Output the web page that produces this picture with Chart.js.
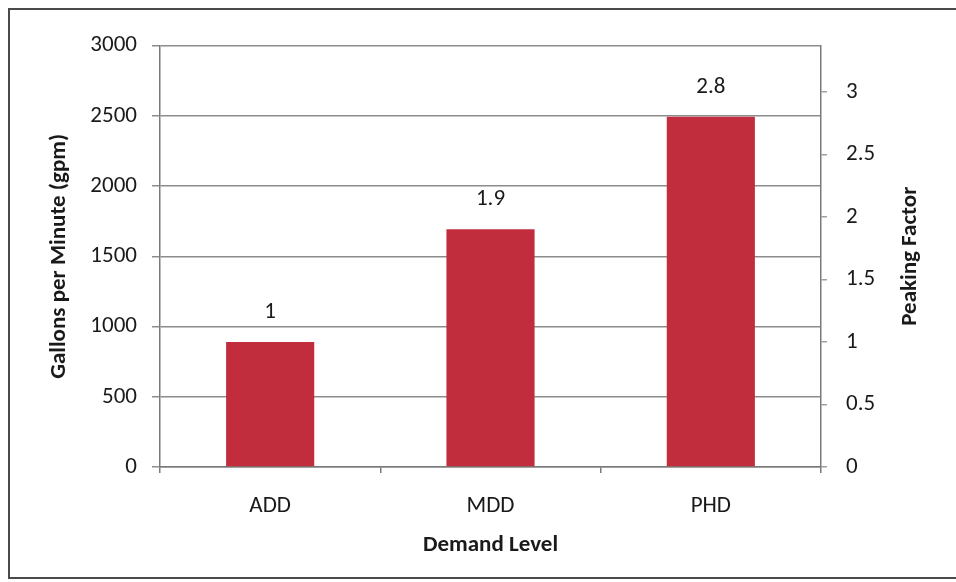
<!DOCTYPE html>
<html>
<head>
<meta charset="utf-8">
<title>Demand Level and Peaking Factor</title>
<script src="https://cdn.jsdelivr.net/npm/chart.js@4.4.1/dist/chart.umd.min.js"></script>
<style>
  html, body { margin: 0; padding: 0; background: #ffffff; }
  #wrap { width: 956px; height: 582px; }
</style>
</head>
<body>
<div id="wrap"><canvas id="chart" width="956" height="582"></canvas></div>
<script>
// Demand levels and their peaking factors (ratio to average day demand)
const demandLevels = ['ADD', 'MDD', 'PHD'];
const peakingFactors = [1, 1.9, 2.8];

// Axis tick ranges
const gpmTicks = { min: 0, max: 3000, step: 500 };
const factorTicks = { min: 0, max: 3.37, step: 0.5 };

// Axis titles
const xTitle = 'Demand Level';
const yTitle = 'Gallons per Minute (gpm)';
const y1Title = 'Peaking Factor';

const FONT = 'Carlito, Lato, "Open Sans", sans-serif';
const FONT_SIZE = 23;
const textColor = '#1a1a1a';
const gridColor = '#8c8c8c';
const axisColor = '#7a7a7a';
const barColor = '#c22d3d';

// Plain numbers on the axes (no thousands separator, no trailing .0)
const plainNumber = v => String(Math.round(v * 100) / 100);

// White page with the dark frame around the figure
const framePlugin = {
  id: 'frame',
  beforeDraw(chart) {
    const ctx = chart.ctx;
    ctx.save();
    ctx.fillStyle = '#ffffff';
    ctx.fillRect(0, 0, chart.width, chart.height);
    ctx.strokeStyle = '#4a4a4a';
    ctx.lineWidth = 2;
    ctx.beginPath();
    ctx.moveTo(chart.width, 9);
    ctx.lineTo(9, 9);
    ctx.lineTo(9, 578);
    ctx.lineTo(chart.width, 578);
    ctx.stroke();
    ctx.restore();
  }
};

// Both vertical axis titles, reading bottom to top, centred on the plot
const sideTitles = {
  id: 'sideTitles',
  afterDraw(chart) {
    const ctx = chart.ctx;
    const area = chart.chartArea;
    const midY = (area.top + area.bottom) / 2;
    ctx.save();
    ctx.font = 'bold ' + FONT_SIZE + 'px ' + FONT;
    ctx.fillStyle = textColor;
    ctx.textAlign = 'center';
    ctx.textBaseline = 'middle';
    [[59, yTitle], [910, y1Title]].forEach(([x, text]) => {
      ctx.save();
      ctx.translate(x, midY);
      ctx.rotate(-Math.PI / 2);
      ctx.fillText(text, 0, 0);
      ctx.restore();
    });
    ctx.restore();
  }
};

// Value labels above each bar
const valueLabels = {
  id: 'valueLabels',
  afterDatasetsDraw(chart) {
    const ctx = chart.ctx;
    const meta = chart.getDatasetMeta(0);
    const data = chart.data.datasets[0].data;
    ctx.save();
    ctx.font = FONT_SIZE + 'px ' + FONT;
    ctx.fillStyle = textColor;
    ctx.textAlign = 'center';
    ctx.textBaseline = 'middle';
    meta.data.forEach((bar, i) => {
      ctx.fillText(String(data[i]), bar.x, bar.y - 30);
    });
    ctx.restore();
  }
};

new Chart(document.getElementById('chart'), {
  type: 'bar',
  data: {
    labels: demandLevels,
    datasets: [{
      label: y1Title,
      data: peakingFactors,
      yAxisID: 'y1',
      backgroundColor: barColor,
      borderWidth: 0,
      categoryPercentage: 1,
      barPercentage: 0.4
    }]
  },
  options: {
    responsive: false,
    animation: false,
    devicePixelRatio: 1,
    layout: { padding: { top: 45.5, left: 0, right: 0, bottom: 0 } },
    plugins: {
      legend: { display: false },
      tooltip: { enabled: false },
      title: { display: false }
    },
    scales: {
      x: {
        afterFit(scale) { scale.height = 115; },
        grid: {
          display: true,
          drawOnChartArea: false,
          drawTicks: true,
          tickLength: 6,
          color: axisColor,
          lineWidth: 1.5,
          offset: true
        },
        border: { display: true, color: axisColor, width: 1.5 },
        ticks: { color: textColor, font: { family: FONT, size: FONT_SIZE }, padding: 19 },
        title: {
          display: true,
          text: xTitle,
          color: textColor,
          font: { family: FONT, size: FONT_SIZE, weight: 'bold' },
          padding: { top: 0, bottom: 23 }
        }
      },
      y: {
        position: 'left',
        min: gpmTicks.min,
        max: gpmTicks.max,
        afterFit(scale) { scale.width = 160; },
        grid: {
          color: gridColor,
          lineWidth: 1.5,
          drawTicks: true,
          tickLength: 8
        },
        border: { display: true, color: axisColor, width: 1.5 },
        ticks: {
          stepSize: gpmTicks.step,
          callback: plainNumber,
          color: textColor,
          font: { family: FONT, size: FONT_SIZE },
          padding: 15
        },
        title: { display: false }
      },
      y1: {
        position: 'right',
        min: factorTicks.min,
        max: factorTicks.max,
        afterFit(scale) { scale.width = 135; },
        grid: {
          drawOnChartArea: false,
          drawTicks: true,
          tickLength: 6,
          color: '#a0a0a0',
          lineWidth: 1.5
        },
        border: { display: true, color: axisColor, width: 1.5 },
        ticks: {
          stepSize: factorTicks.step,
          includeBounds: false,
          callback: plainNumber,
          color: textColor,
          font: { family: FONT, size: FONT_SIZE },
          padding: 19
        },
        title: { display: false }
      }
    }
  },
  plugins: [framePlugin, valueLabels, sideTitles]
});
</script>
</body>
</html>
